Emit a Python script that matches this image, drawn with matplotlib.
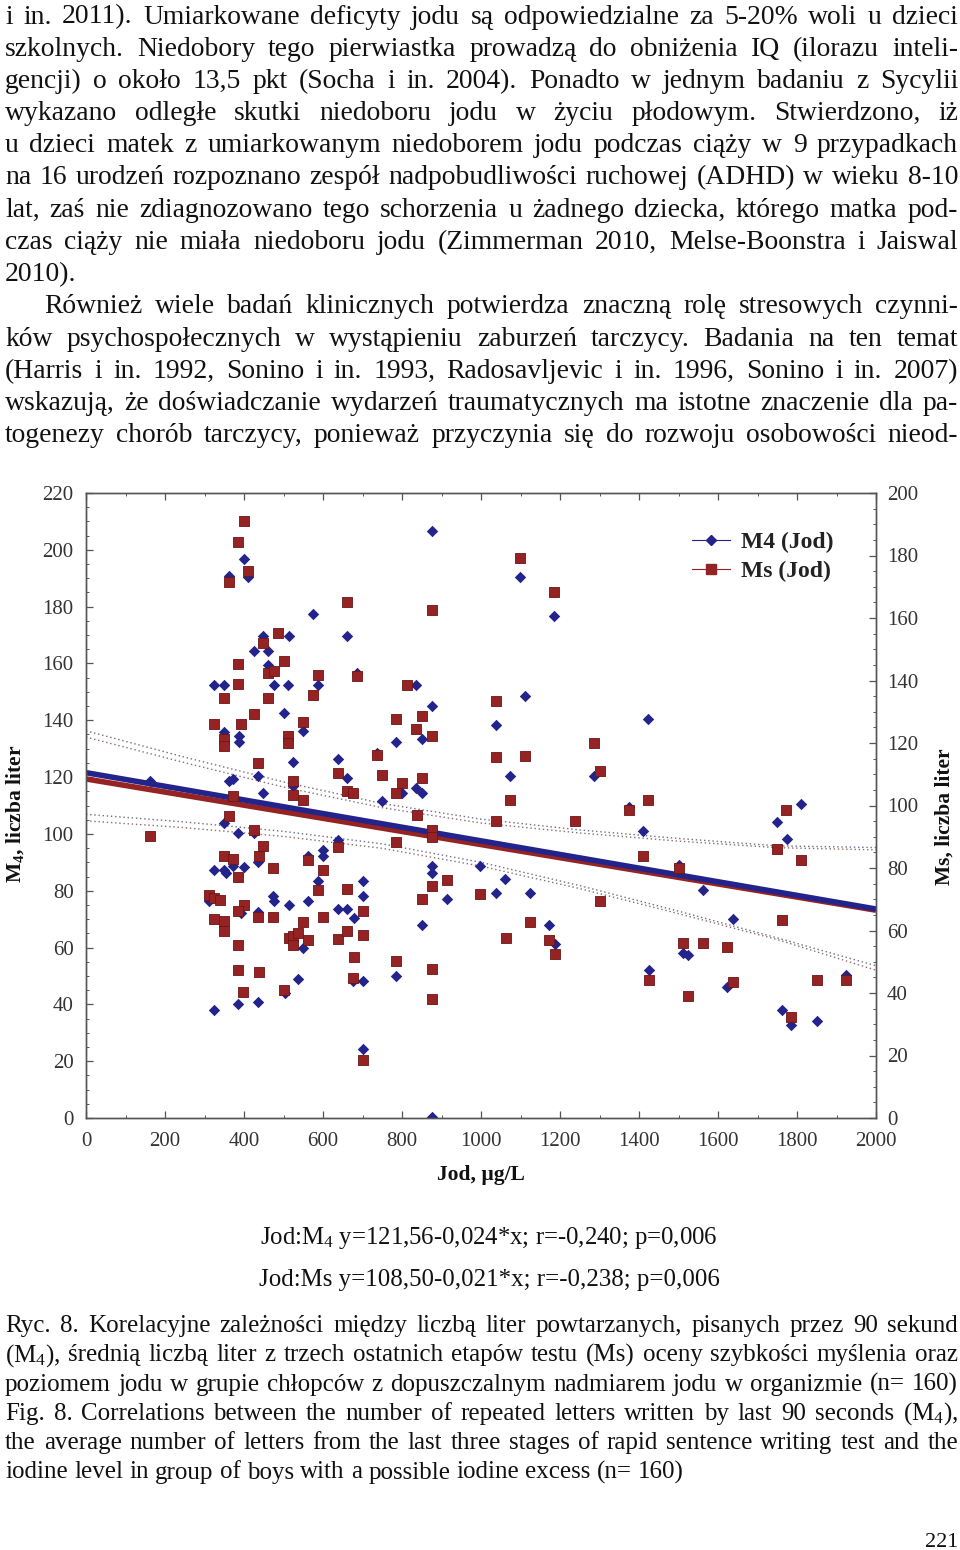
import matplotlib
matplotlib.use('Agg')
import matplotlib.pyplot as plt
from matplotlib.lines import Line2D
from matplotlib.ticker import MultipleLocator
import numpy as np

plt.rcParams['font.family'] = ['Liberation Serif', 'DejaVu Serif']
plt.rcParams['mathtext.fontset'] = 'custom'
plt.rcParams['mathtext.rm'] = 'Liberation Serif'
plt.rcParams['mathtext.it'] = 'Liberation Serif:italic'
plt.rcParams['mathtext.bf'] = 'Liberation Serif:bold'

# ---------------- data ----------------
# M4 (blue diamonds, left axis)
m4_x = [162, 875, 401, 362, 411, 574, 449, 514, 662, 425, 462, 462, 325, 350, 476, 512, 588, 835, 687, 500,
        875, 549, 350, 387, 387, 850, 786, 523, 637, 736, 436, 363, 373, 662, 449, 799, 835, 850, 750, 523,
        349, 386, 875, 325, 350, 354, 373, 401, 436, 311, 425, 392, 436, 474, 476, 514, 563, 588, 599, 599,
        563, 549, 537, 504, 436, 386, 325, 637, 662, 679, 637, 700, 700, 700, 675, 700, 786, 850, 875, 875,
        913, 997,
        1099, 1186, 1111, 1037, 1424, 1073, 1286, 1810,
        1037, 1061, 1124, 1172, 1187, 1375, 1411, 1425, 1502, 1512, 1525, 1561, 1622, 1637, 1749, 1774, 1761,
        1786, 1850, 1924]
m4_y = [118.6, 206.6, 196.6, 190.7, 190.3, 177.5, 169.8, 169.6, 169.6, 164.5, 164.5, 159.6, 152.4, 152.4,
        152.4, 152.4, 152.4, 152.4, 156.8, 142.4, 145.2, 136.3, 135.7, 134.5, 132.2, 133.3, 132.5, 125.3,
        126.5, 128.6, 120.4, 118.6, 119.2, 119.6, 114.5, 114.5, 116.3, 114.5, 111.6, 116.9,
        103.9, 100.2, 0.2, 87.2, 87.2, 86.3, 88.7, 88.3, 90.1, 76.3, 100.4, 72.2, 72.5, 78.1, 76.3, 75.1,
        76.3, 83.6, 94.5, 92.2, 92.4, 59.8, 49.0, 44.0, 41.0, 40.1, 38.1, 73.4, 73.4, 70.4, 97.8, 83.4,
        78.1, 48.1, 48.1, 24.2, 50.1, 68.1, 88.7, 86.3, 77.2, 88.7,
        190.6, 176.6, 148.4, 138.4, 140.4, 120.4, 120.4, 110.4,
        79.2, 84.3, 79.2, 68.1, 61.4, 109.6, 101.2, 52.2, 89.2, 58.1, 57.3, 80.2, 46.0, 70.2, 104.3, 98.3,
        38.1, 32.8, 34.0, 50.2]

# Ms (red squares, right axis)
ms_x = [401, 386, 411, 362, 662, 875, 487, 449, 386, 500, 462, 476, 588, 687, 386, 812, 350, 462, 574, 425,
        850, 325, 549, 393, 786, 835, 350, 350, 512, 512, 875, 436, 736, 637, 750, 850, 523, 799, 662, 675,
        786, 373, 523, 549,
        162, 362, 425, 449, 350, 373, 437, 386, 474, 312, 325, 339, 325, 350, 350, 401, 386, 436, 474, 386,
        386, 397, 437, 501, 513, 525, 525, 537, 549, 563, 563, 599, 588, 599, 637, 662, 637, 662, 679, 675,
        700, 700, 700, 786, 786, 837, 850, 875, 875, 875, 875, 875, 913, 997,
        1099, 1186, 1037, 1287, 1037, 1111, 1301, 1073, 1424, 1375, 1772,
        1037, 1238, 1063, 1124, 1172, 1187, 1300, 1411, 1425, 1502, 1512, 1525, 1563, 1624, 1637, 1749, 1761,
        1810, 1786, 1850, 1924]
ms_y = [190.9, 184.2, 174.9, 171.4, 165.2, 162.6, 155.1, 152.1, 145.4, 146.3, 142.5, 143.1, 141.7, 141.5,
        138.8, 138.5, 134.3, 134.3, 135.3, 129.4, 128.6, 126.2, 126.8, 126.0, 127.6, 124.4, 121.2, 119.0,
        122.2, 120.1, 122.2, 113.5, 116.1, 110.3, 109.7, 108.9, 107.8, 107.3, 104.6, 104.1, 104.1, 103.0,
        103.5, 101.7,
        90.2, 96.6, 92.3, 87.2, 83.8, 82.9, 84.0, 77.1, 80.0, 71.3, 70.4, 69.9, 63.7, 63.2, 59.7, 68.3, 66.3,
        64.3, 64.3, 55.4, 47.4, 40.2, 46.7, 41.0, 57.6, 58.1, 55.4, 59.2, 62.6, 57.1, 82.5, 79.5, 72.9, 64.3,
        86.8, 73.3, 57.3, 59.7, 51.5, 44.8, 66.1, 58.7, 18.6, 88.2, 50.1, 96.9, 70.1, 92.3, 89.9, 74.4, 47.6,
        38.0, 76.3, 71.7,
        179.2, 168.4, 133.4, 120.1, 115.5, 115.8, 111.2, 101.9, 101.7, 98.7, 98.7,
        95.0, 95.2, 57.6, 62.6, 57.1, 52.5, 69.6, 83.8, 44.2, 80.0, 56.0, 38.9, 56.0, 54.7, 43.4, 86.1, 63.5,
        82.5, 32.3, 44.2, 44.2]

# regression coefficients (from caption)
m4_intercept, m4_slope = 121.56, -0.024
ms_intercept, ms_slope = 108.50, -0.021

# confidence bands
band_x = [0, 250, 500, 750, 1000, 1250, 1500, 1750, 2000]
m4_upper = [136.3, 127.0, 118.3, 110.7, 105.2, 101.4, 98.4, 95.8, 95.2]
m4_lower = [106.9, 104.2, 100.9, 96.5, 90.0, 81.8, 72.8, 63.4, 53.6]
ms_upper = [121.9, 113.7, 105.9, 99.3, 94.4, 91.2, 88.6, 86.5, 85.8]
ms_lower = [95.1, 92.9, 90.1, 86.3, 80.6, 73.4, 65.4, 57.1, 47.3]

legend_labels = ['M4 (Jod)', 'Ms (Jod)']
xlabel = 'Jod, µg/L'
ylabel_left = r'$\mathbf{M}_\mathbf{4}$, liczba liter'
ylabel_right = 'Ms, liczba liter'

para1 = [
    "i in. 2011). Umiarkowane deficyty jodu są odpowiedzialne za 5-20% woli u dzieci",
    "szkolnych. Niedobory tego pierwiastka prowadzą do obniżenia IQ (ilorazu inteli-",
    "gencji) o około 13,5 pkt (Socha i in. 2004). Ponadto w jednym badaniu z Sycylii",
    "wykazano odległe skutki niedoboru jodu w życiu płodowym. Stwierdzono, iż",
    "u dzieci matek z umiarkowanym niedoborem jodu podczas ciąży w 9 przypadkach",
    "na 16 urodzeń rozpoznano zespół nadpobudliwości ruchowej (ADHD) w wieku 8-10",
    "lat, zaś nie zdiagnozowano tego schorzenia u żadnego dziecka, którego matka pod-",
    "czas ciąży nie miała niedoboru jodu (Zimmerman 2010, Melse-Boonstra i Jaiswal",
    "2010).",
]
para2 = [
    "Również wiele badań klinicznych potwierdza znaczną rolę stresowych czynni-",
    "ków psychospołecznych w wystąpieniu zaburzeń tarczycy. Badania na ten temat",
    "(Harris i in. 1992, Sonino i in. 1993, Radosavljevic i in. 1996, Sonino i in. 2007)",
    "wskazują, że doświadczanie wydarzeń traumatycznych ma istotne znaczenie dla pa-",
    "togenezy chorób tarczycy, ponieważ przyczynia się do rozwoju osobowości nieod-",
]
eq_lines = [
    r"Jod:M$_4$ y=121,56-0,024*x; r=-0,240; p=0,006",
    "Jod:Ms y=108,50-0,021*x; r=-0,238; p=0,006",
]
caption = [
    "Ryc. 8. Korelacyjne zależności między liczbą liter powtarzanych, pisanych przez 90 sekund",
    r"(M$_4$), średnią liczbą liter z trzech ostatnich etapów testu (Ms) oceny szybkości myślenia oraz",
    "poziomem jodu w grupie chłopców z dopuszczalnym nadmiarem jodu w organizmie (n= 160)",
    r"Fig. 8. Correlations between the number of repeated letters written by last 90 seconds (M$_4$),",
    "the average number of letters from the last three stages of rapid sentence writing test and the",
    "iodine level in group of boys with a possible iodine excess (n= 160)",
]
page_number = "221"

# ---------------- figure ----------------
W, H = 960, 1550
fig = plt.figure(figsize=(W / 100, H / 100), dpi=100)
renderer = fig.canvas.get_renderer()

BLUE = '#23238c'
RED = '#962323'
TXT = '#111111'

ax = fig.add_axes([86 / W, 1 - 1118 / H, 790 / W, 625 / H])
ax2 = ax.twinx()
ax.set_xlim(0, 2000)
ax.set_ylim(0, 220)
ax2.set_ylim(0, 200)

# confidence bands
ax.plot(band_x, m4_upper, color='#6c6c8c', lw=1.0, ls=(0, (1, 2)), zorder=1.5)
ax.plot(band_x, m4_lower, color='#6c6c8c', lw=1.0, ls=(0, (1, 2)), zorder=1.5)
ax.plot(band_x, ms_upper, color='#8c6c6c', lw=1.0, ls=(0, (1, 2)), zorder=1.5, transform=ax2.transData)
ax.plot(band_x, ms_lower, color='#8c6c6c', lw=1.0, ls=(0, (1, 2)), zorder=1.5, transform=ax2.transData)

# regression lines
xl = np.array([0, 2000])
ax.plot(xl, ms_intercept + ms_slope * xl, color=RED, lw=4.0, solid_capstyle='butt', zorder=2,
        transform=ax2.transData)
ax.plot(xl, m4_intercept + m4_slope * xl, color=BLUE, lw=4.0, solid_capstyle='butt', zorder=2.1)

# points
ax.scatter(m4_x, m4_y, marker='D', s=34, color=BLUE, linewidths=0, zorder=3)
ax.scatter(ms_x, ms_y, marker='s', s=60, color=RED, edgecolors='#6e1414', linewidths=0.6, zorder=4,
           transform=ax2.transData)

# ticks & spines
for a in (ax, ax2):
    for sp in a.spines.values():
        sp.set_color('#555555')
        sp.set_linewidth(1.0)
ax.xaxis.set_major_locator(MultipleLocator(200))
ax.xaxis.set_minor_locator(MultipleLocator(100))
ax.yaxis.set_major_locator(MultipleLocator(20))
ax.yaxis.set_minor_locator(MultipleLocator(5))
ax2.yaxis.set_major_locator(MultipleLocator(20))
ax2.yaxis.set_minor_locator(MultipleLocator(5))
ax.tick_params(axis='x', which='both', direction='in', top=True, bottom=True, colors='#555555',
               labelcolor='#333333', labelsize=15, pad=10)
ax.tick_params(axis='y', which='both', direction='in', left=True, right=False, colors='#555555',
               labelcolor='#333333', labelsize=15, pad=9)
ax2.tick_params(axis='y', which='both', direction='in', colors='#555555', labelcolor='#333333',
                labelsize=15, pad=8)
for a in (ax, ax2):
    a.tick_params(which='major', length=5, width=0.9)
    a.tick_params(which='minor', length=2.5, width=0.7)

# legend
handles = [Line2D([], [], color=BLUE, lw=0.8, marker='D', markersize=5.5),
           Line2D([], [], color=RED, lw=0.8, marker='s', markersize=7.5)]
leg = ax2.legend(handles, legend_labels, loc='upper left', bbox_to_anchor=(0.74, 0.972),
                 frameon=False, handlelength=1.6, handletextpad=0.5, labelspacing=0.3,
                 prop={'weight': 'bold', 'size': 17})
for t in leg.get_texts():
    t.set_color('#222222')

# axis labels
fig.text(481 / W, 1 - 1175 / H, xlabel, ha='center', va='center', fontsize=15.5, weight='bold', color=TXT)
fig.text(15 / W, 1 - 814 / H, ylabel_left, ha='center', va='center', rotation=90, fontsize=15.5,
         weight='bold', color=TXT)
fig.text(945 / W, 1 - 817 / H, ylabel_right, ha='center', va='center', rotation=90, fontsize=15.5,
         weight='bold', color=TXT)


# ---------------- page text ----------------
def text_width(s, size):
    t = fig.text(0, 0, s, fontsize=size)
    w = t.get_window_extent(renderer).width
    t.remove()
    return w


def fit_size(lines, x0s, x1, fill=0.985):
    sizes = []
    for line, x0 in zip(lines, x0s):
        w10 = text_width(line, 10)
        sizes.append(10 * (x1 - x0) * fill / w10)
    return min(sizes)


def draw_line(s, y, x0, x1, size, justify=True):
    words = s.split(' ')
    widths = [text_width(w_, size) for w_ in words]
    if justify and len(words) > 1:
        gap = (x1 - x0 - sum(widths)) / (len(words) - 1)
    else:
        gap = text_width('a a', size) - text_width('aa', size)
    x = x0
    for w_, wd in zip(words, widths):
        fig.text(x / W, 1 - y / H, w_, fontsize=size, ha='left', va='baseline', color=TXT)
        x += wd + gap


body_lines = para1[:-1] + para2
body_x0 = [5] * (len(para1) - 1) + [44] + [5] * (len(para2) - 1)
BODY = fit_size(body_lines, body_x0, 958)

base0 = 23.5
step = 32.2
for i, line in enumerate(para1):
    draw_line(line, base0 + i * step, 5, 958, BODY, justify=(i < len(para1) - 1))
for j, line in enumerate(para2):
    k = len(para1) + j
    x0 = 44 if j == 0 else 5
    draw_line(line, base0 + k * step, x0, 958, BODY, justify=True)

# equation lines, fitted to width
for line, yb in zip(eq_lines, [1244, 1286]):
    w10 = text_width(line, 10)
    size = 10 * 458 / w10
    fig.text(489 / W, 1 - yb / H, line, fontsize=size, ha='center', va='baseline', color=TXT)

CAP = fit_size(caption[:-1], [5] * (len(caption) - 1), 958)
cap0 = 1332
cstep = 29.3
for i, line in enumerate(caption):
    draw_line(line, cap0 + i * cstep, 5, 958, CAP, justify=(i < len(caption) - 1))

fig.text(958 / W, 1 - 1547 / H, page_number, fontsize=16, ha='right', va='baseline', color=TXT)

fig.savefig('out.png', dpi=100)
